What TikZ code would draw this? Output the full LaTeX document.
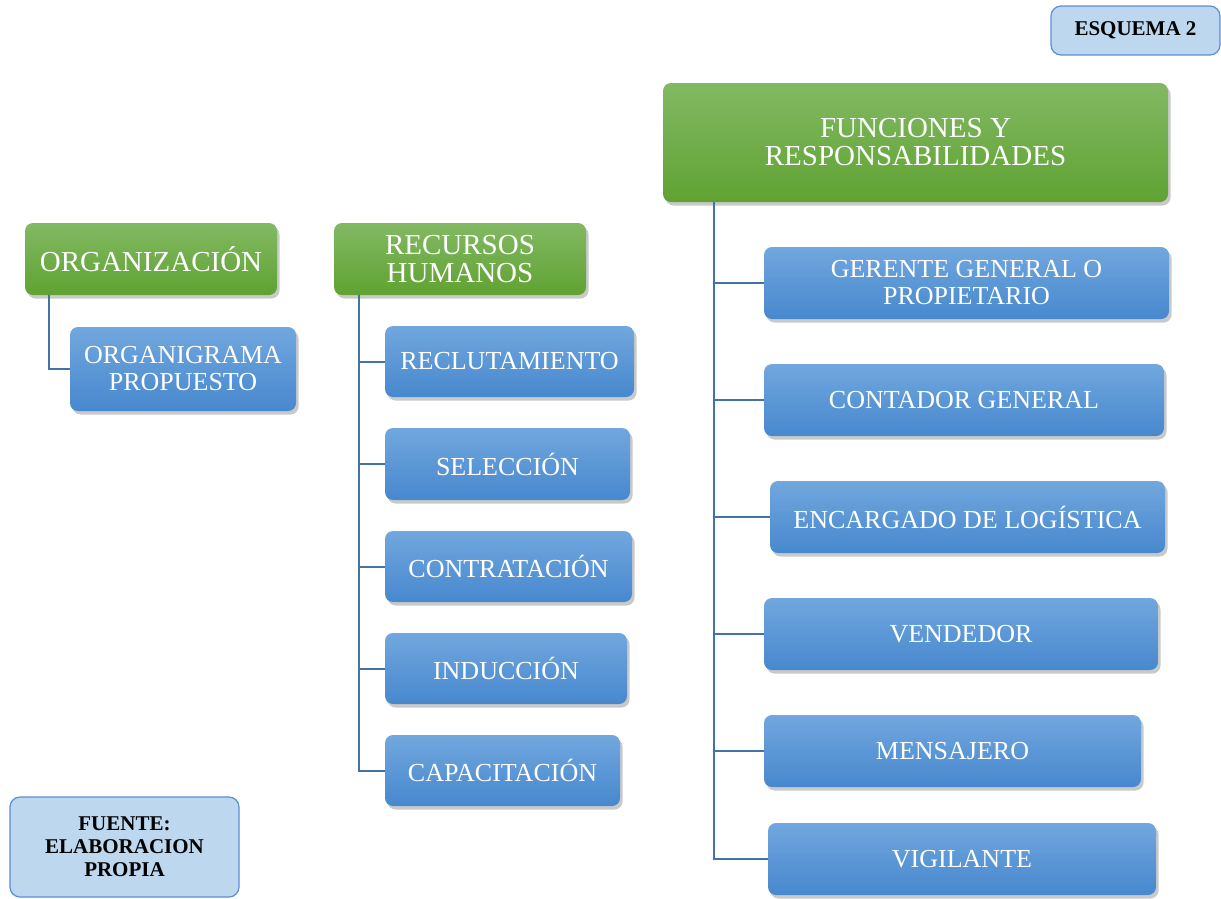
\documentclass[tikz,border=0pt]{standalone}
\usepackage{fontspec}
\setmainfont{Liberation Serif}
\usetikzlibrary{shadows}
\definecolor{bluetop}{HTML}{71A7DE}
\definecolor{bluebot}{HTML}{4788CE}
\definecolor{greentop}{HTML}{82B963}
\definecolor{greenbot}{HTML}{60A232}
\definecolor{notefill}{HTML}{BDD7EE}
\definecolor{noteline}{HTML}{5B8ED6}
\definecolor{linec}{HTML}{4472A6}
\tikzset{
  basebox/.style={rounded corners=8pt, inner sep=2pt, align=center, text=white,
    drop shadow={shadow xshift=2.5pt, shadow yshift=-3.5pt, opacity=0.3, fill=black!70}},
  bluebox/.style={basebox, top color=bluetop, bottom color=bluebot,
    font=\fontsize{26}{27}\selectfont},
  greenbox/.style={basebox, top color=greentop, bottom color=greenbot,
    font=\fontsize{29}{28}\selectfont},
  notebox/.style={rounded corners=10pt, fill=notefill, draw=noteline, line width=1.2pt,
    align=center, text=black, font=\bfseries},
  conn/.style={draw=linec, line width=2pt}
}
\begin{document}
\begin{tikzpicture}[x=1pt,y=-1pt]
\useasboundingbox (0,0) rectangle (1221,898);
% notes
\node[notebox, minimum width=169pt, minimum height=49pt, font=\fontsize{21}{23}\selectfont\bfseries] (esq) at (1135.5,30.5) {ESQUEMA 2};
\node[notebox, minimum width=229pt, minimum height=100pt, font=\fontsize{21}{23}\selectfont\bfseries] (fuente) at (124.5,847) {FUENTE:\\ELABORACION\\PROPIA};
% headers
\node[greenbox, minimum width=505pt, minimum height=119pt] (func) at (915.5,142.5) {FUNCIONES Y\\RESPONSABILIDADES};
\node[greenbox, minimum width=252pt, minimum height=72pt] (org) at (151,259) {ORGANIZACIÓN};
\node[greenbox, minimum width=252pt, minimum height=72pt] (rh) at (460,259) {RECURSOS\\HUMANOS};
% organización
\node[bluebox, minimum width=226pt, minimum height=84pt] (orgp) at (183,369) {ORGANIGRAMA\\PROPUESTO};
% recursos humanos
\node[bluebox, minimum width=249pt, minimum height=71pt] (recl) at (509.5,361.5) {RECLUTAMIENTO};
\node[bluebox, minimum width=245pt, minimum height=72pt] (sel) at (507.5,464) {SELECCIÓN};
\node[bluebox, minimum width=247pt, minimum height=71pt] (cont) at (508.5,566.5) {CONTRATACIÓN};
\node[bluebox, minimum width=242pt, minimum height=71pt] (ind) at (506,668.5) {INDUCCIÓN};
\node[bluebox, minimum width=235pt, minimum height=71pt] (cap) at (502.5,770.5) {CAPACITACIÓN};
% funciones
\node[bluebox, minimum width=405pt, minimum height=72pt] (ger) at (966.5,283) {GERENTE GENERAL O\\PROPIETARIO};
\node[bluebox, minimum width=400pt, minimum height=72pt] (cg) at (964,400) {CONTADOR GENERAL};
\node[bluebox, minimum width=395pt, minimum height=72pt] (enc) at (967.5,517) {ENCARGADO DE LOGÍSTICA};
\node[bluebox, minimum width=394pt, minimum height=72pt] (ven) at (961,634) {VENDEDOR};
\node[bluebox, minimum width=377pt, minimum height=72pt] (men) at (952.5,751) {MENSAJERO};
\node[bluebox, minimum width=388pt, minimum height=72pt] (vig) at (962,859) {VIGILANTE};
% connectors
\coordinate (orgx) at ([xshift=24pt]org.south west);
\coordinate (rhx) at ([xshift=25pt]rh.south west);
\coordinate (funcx) at ([xshift=51pt]func.south west);
\draw[conn] (orgx) |- (orgp.west);
\draw[conn] (rhx) |- (cap.west);
\foreach \n in {recl,sel,cont,ind} \draw[conn] (\n.west) -- (\n.west -| rhx);
\draw[conn] (funcx) |- (vig.west);
\foreach \n in {ger,cg,enc,ven,men} \draw[conn] (\n.west) -- (\n.west -| funcx);
\end{tikzpicture}
\end{document}
